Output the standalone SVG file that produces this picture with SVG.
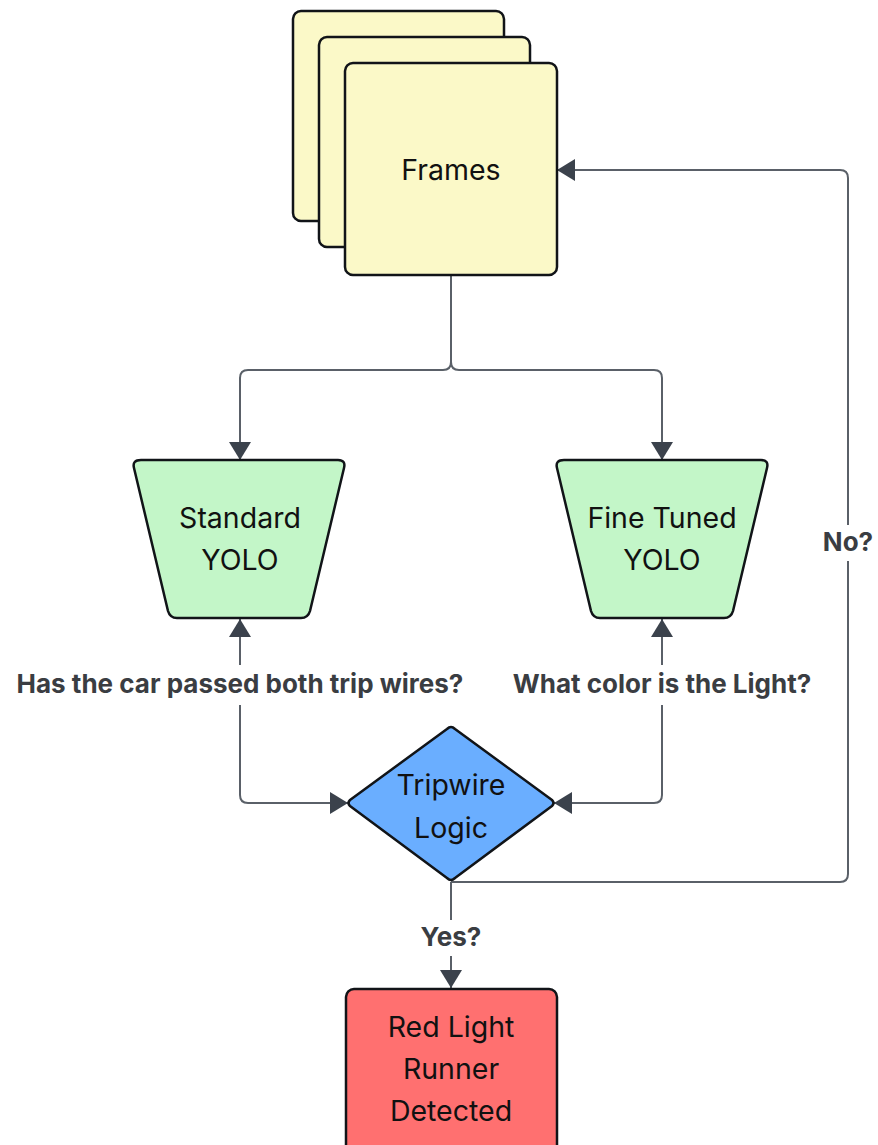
<svg xmlns="http://www.w3.org/2000/svg" width="878" height="1145" viewBox="0 0 878 1145">
<style>
.node{stroke:#111418;stroke-width:2.5;stroke-linejoin:round}
.frame{fill:#fbf9c8}
.yolo{fill:#c3f6c8}
.dec{fill:#6aaeff}
.red{fill:#ff7070}
.t{font-family:Inter,"Liberation Sans",sans-serif;font-size:28.5px;fill:#111;text-anchor:middle}
.lbl{font-family:Inter,"Liberation Sans",sans-serif;font-size:26px;font-weight:bold;fill:#3a3d42;text-anchor:middle}
.c{fill:none;stroke:#5a6068;stroke-width:2}
.bg{fill:#ffffff}
</style>
<defs>
<marker id="ah" viewBox="0 0 18 22" refX="18" refY="11" markerWidth="18" markerHeight="22" markerUnits="userSpaceOnUse" orient="auto-start-reverse">
<path d="M0,0 L18,11 L0,22 Z" fill="#3b424c"/>
</marker>
</defs>
<rect width="878" height="1145" fill="#ffffff"/>
<g id="connectors">
<path class="c" d="M451,276 V362 Q451,370 443,370 H248 Q240,370 240,378 V460" marker-end="url(#ah)"/>
<path class="c" d="M451,362 Q451,370 459,370 H654 Q662,370 662,378 V460" marker-end="url(#ah)"/>
<path class="c" d="M240,619 V795 Q240,803 248,803 H348" marker-start="url(#ah)" marker-end="url(#ah)"/>
<path class="c" d="M662,619 V795 Q662,803 654,803 H554" marker-start="url(#ah)" marker-end="url(#ah)"/>
<path class="c" d="M451,882 V988" marker-end="url(#ah)"/>
<path class="c" d="M451,882 H840 Q848,882 848,874 V178 Q848,170 840,170 H557" marker-end="url(#ah)"/>
<rect class="bg" x="6" y="665" width="470" height="40"/>
<text class="lbl" x="240" y="693">Has the car passed both trip wires?</text>
<rect class="bg" x="506" y="665" width="312" height="40"/>
<text class="lbl" x="662" y="693">What color is the Light?</text>
<rect class="bg" x="412" y="920" width="78" height="36"/>
<text class="lbl" x="451" y="946">Yes?</text>
<rect class="bg" x="818" y="525" width="60" height="36"/>
<text class="lbl" x="848" y="551">No?</text>
</g>
<g id="frames">
<rect class="node frame" x="293" y="11" width="211" height="210" rx="8"/>
<rect class="node frame" x="319" y="37" width="211" height="210" rx="8"/>
<rect class="node frame" x="345" y="63" width="212" height="212" rx="8"/>
<text class="t" x="451" y="180">Frames</text>
</g>
<g id="standard-yolo">
<path class="node yolo" d="M141,460 H338 Q346,460 344,468 L310,611 Q308,618 301,618 H177 Q170,618 168,611 L134,468 Q132,460 141,460 Z"/>
<text class="t" x="240" y="528">Standard</text>
<text class="t" x="240" y="570">YOLO</text>
</g>
<g id="fine-tuned-yolo">
<path class="node yolo" d="M564,460 H761 Q769,460 767,468 L733,611 Q731,618 724,618 H600 Q593,618 591,611 L557,468 Q555,460 564,460 Z"/>
<text class="t" x="662" y="528">Fine Tuned</text>
<text class="t" x="662" y="570">YOLO</text>
</g>
<g id="tripwire-logic">
<path class="node dec" d="M447,729 Q451,725 455,729 L552,800 Q555,803 552,806 L455,878 Q451,882 447,878 L350,806 Q347,803 350,800 Z"/>
<text class="t" x="451" y="795">Tripwire</text>
<text class="t" x="451" y="838">Logic</text>
</g>
<g id="red-light-runner">
<rect class="node red" x="346" y="989" width="211" height="170" rx="8"/>
<text class="t" x="451" y="1037">Red Light</text>
<text class="t" x="451" y="1079">Runner</text>
<text class="t" x="451" y="1121">Detected</text>
</g>
</svg>
